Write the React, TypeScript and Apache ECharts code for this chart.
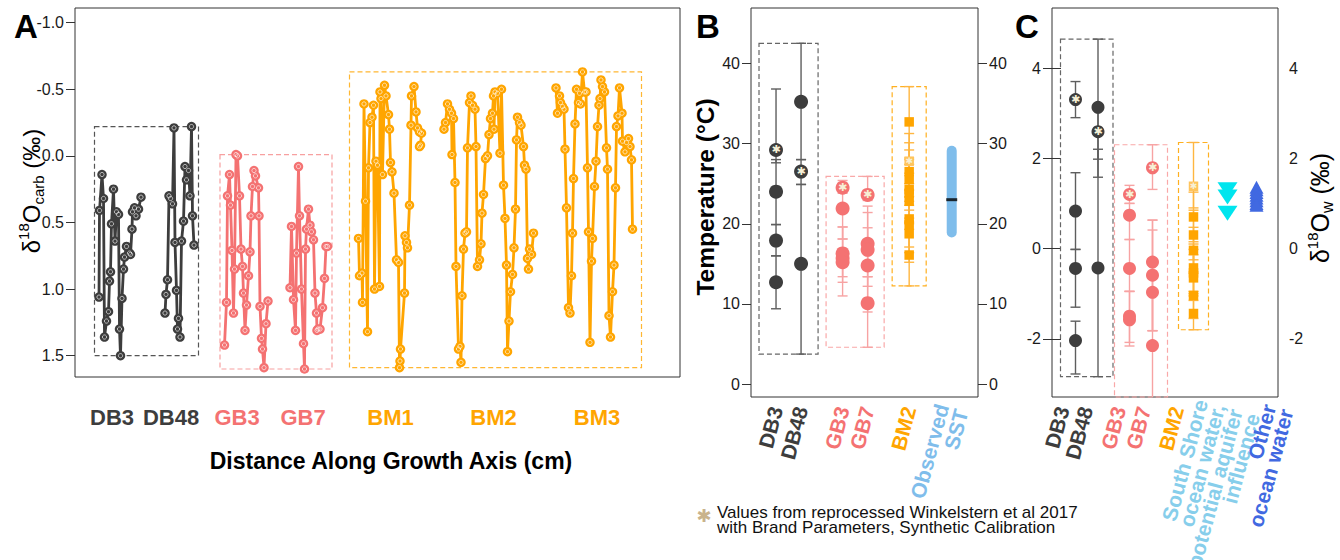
import React, { useEffect, useRef } from 'react';
import * as echarts from 'echarts';

const FONT = '"Liberation Sans", Arial, Helvetica, sans-serif';

// ---------- colours ----------
const COL: Record<string, string> = {
  db: '#3d3d3d',
  gb: '#F47272',
  bm: '#FFA500',
  sst: '#7FBDEB',
  ssw: '#87CEEB',
  oow: '#4169E1',
};
const ERRCOL: Record<string, string> = { db: '#5e5e5e', gb: '#F7A3A3', bm: '#FFB640' };
const STARFILL: Record<string, string> = { db: '#3d3d3d', gb: '#F47272', bm: '#FFC45C' };

// ---------- Panel A : d18O carb along growth axis ----------
const specimensA = ['DB3', 'DB48', 'GB3', 'GB7', 'BM1', 'BM2', 'BM3'];
const groupA = ['db', 'db', 'gb', 'gb', 'bm', 'bm', 'bm'];
const labelPosA = [7.4, 19.2, 32.4, 45.6, 63.1, 83.7, 104.4];
const ticksA = [-1, -0.5, 0, 0.5, 1, 1.5];

const db3A = [[4.8,1.06],[4.9,0.41],[5.4,0.14],[5.7,0.32],[5.9,1.36],[6.3,1.24],[6.7,1.17],[6.9,0.94],[7.1,0.87],[7.3,0.51],[7.7,0.25],[8.0,0.64],[8.3,0.42],[8.7,0.44],[8.9,1.30],[9.1,1.50],[9.4,1.07],[9.7,0.85],[9.9,0.76],[10.3,0.68],[10.9,0.73],[11.1,0.74],[11.4,0.55],[11.5,0.42],[11.9,0.39],[12.2,0.45],[12.7,0.40],[13.2,0.31]];
const db48A = [[18.0,1.18],[18.2,1.04],[18.5,0.93],[18.8,0.30],[19.1,0.32],[19.5,0.36],[19.8,-0.21],[20.0,0.65],[20.3,1.01],[20.5,1.30],[20.7,1.22],[21.0,1.36],[21.3,0.64],[21.7,0.49],[22.0,0.08],[22.3,0.18],[22.7,0.11],[23.0,0.30],[23.3,-0.22],[23.5,0.45],[23.8,0.67]];
const gb3A = [[29.9,1.42],[30.3,1.10],[30.5,0.30],[30.9,0.14],[31.1,0.37],[31.4,0.71],[31.7,1.18],[31.9,0.85],[32.2,-0.01],[32.5,0.00],[32.9,0.30],[33.2,0.70],[33.5,0.83],[33.7,1.03],[34.0,1.31],[34.3,1.12],[34.7,0.90],[35.0,0.72],[35.2,0.45],[35.5,0.23],[35.8,0.11],[36.1,0.15],[36.7,0.24],[36.8,0.45],[37.0,1.13],[37.3,1.37],[37.5,1.45],[37.8,1.59],[38.2,1.26],[38.6,1.09]];
const gb7A = [[43.0,0.99],[43.3,0.53],[43.7,1.08],[44.1,1.31],[44.3,0.73],[44.7,0.08],[44.9,0.45],[45.3,1.00],[45.7,1.41],[45.9,1.60],[46.1,0.70],[46.3,0.55],[46.7,0.40],[47.0,0.52],[47.3,0.57],[47.7,0.63],[48.0,1.03],[48.3,1.18],[48.4,1.31],[48.6,1.30],[49.0,1.30],[49.5,1.14],[49.9,0.92],[50.2,0.68],[50.5,0.68]];
const bm1A = [[56.7,0.62],[56.9,0.90],[57.4,0.88],[57.5,1.10],[57.8,-0.39],[58.1,0.34],[58.5,1.32],[58.7,0.09],[59.0,-0.25],[59.4,-0.29],[59.7,-0.38],[59.9,1.00],[60.2,0.04],[60.5,0.07],[60.9,0.98],[61.0,-0.48],[61.2,-0.43],[61.5,0.14],[61.9,-0.53],[62.2,-0.45],[62.7,-0.31],[62.9,-0.20],[63.1,0.05],[63.4,0.12],[63.8,0.28],[64.3,0.78],[64.7,0.80],[64.9,1.59],[65.0,1.54],[65.1,1.45],[65.9,1.03],[66.0,0.60],[66.3,0.65],[66.5,0.69],[66.9,0.37],[67.2,-0.23],[67.3,-0.45],[67.8,-0.52],[68.2,-0.33],[68.5,-0.21],[68.9,-0.18],[69.3,-0.17],[69.1,-0.08],[68.9,-0.07]];
const bm2A = [[73.8,-0.20],[74.1,-0.25],[74.5,-0.39],[74.9,-0.35],[75.3,-0.32],[75.4,-0.01],[75.7,-0.28],[76.0,0.20],[76.2,0.83],[76.7,1.45],[77.0,1.43],[77.2,1.55],[77.4,1.05],[77.7,0.70],[78.0,0.58],[78.3,0.57],[78.5,-0.06],[78.9,-0.40],[79.2,-0.45],[79.5,-0.38],[80.0,-0.35],[80.2,-0.07],[80.5,0.83],[80.9,0.78],[81.2,0.66],[81.4,0.43],[81.7,0.29],[82.1,0.02],[82.5,0.00],[82.8,-0.16],[83.1,-0.28],[83.5,-0.32],[83.7,-0.45],[83.8,-0.20],[84.0,-0.48],[84.5,-0.47],[85.0,-0.02],[85.3,-0.50],[85.7,0.22],[86.0,0.47],[86.3,0.82],[86.5,1.47],[86.8,1.24],[87.1,1.02],[87.5,0.89],[87.8,0.69],[88.1,0.40],[88.3,-0.12],[88.5,-0.29],[88.9,-0.25],[89.2,-0.23],[89.7,-0.07],[89.9,0.07],[90.2,0.10],[90.5,0.77],[90.7,0.85],[90.9,0.70],[91.3,0.74],[91.7,0.58]];
const bm3A = [[96.2,-0.51],[96.5,-0.32],[96.9,-0.45],[97.1,-0.40],[97.5,-0.37],[97.8,-0.35],[98.0,-0.05],[98.3,0.39],[98.7,1.14],[99.0,1.18],[99.3,0.90],[99.5,0.58],[99.7,0.17],[100.0,-0.24],[100.3,-0.50],[100.7,-0.40],[100.9,-0.47],[101.1,-0.39],[101.5,-0.63],[101.9,-0.48],[102.2,-0.48],[102.5,0.09],[102.7,0.57],[103.0,1.40],[103.3,0.79],[103.5,0.62],[103.9,0.23],[104.2,0.04],[104.5,-0.22],[104.8,-0.38],[105.0,-0.43],[105.2,-0.57],[105.5,-0.52],[105.9,-0.48],[106.3,-0.06],[106.5,0.10],[106.8,1.20],[107.1,1.36],[107.5,1.02],[107.8,0.82],[108.1,0.24],[108.3,-0.22],[108.6,-0.30],[108.9,-0.51],[109.4,-0.32],[109.5,-0.11],[110.0,-0.03],[110.3,-0.10],[110.7,-0.13],[111.0,-0.07],[111.3,0.03],[111.5,0.55]];
const seriesDataA = [db3A, db48A, gb3A, gb7A, bm1A, bm2A, bm3A];

// ---------- Panel B : temperature (value, low, high) ----------
const labelsB = ['DB3', 'DB48', 'GB3', 'GB7', 'BM2', 'Observed\nSST'];
const groupB = ['db', 'db', 'gb', 'gb', 'bm', 'sst'];
const posB = [1, 2, 3.66, 4.66, 6.32, 8.02];
const ticksB = [0, 10, 20, 30, 40];
const tempDB3 = [[24.0,19.9,28.0],[17.9,16.0,19.9],[12.7,9.4,16.0]];
const tempDB3W = [[29.2,27.6,36.8]];
const tempDB48 = [[35.2,28.0,42.5],[15.0,3.75,24.9]];
const tempDB48W = [[26.5,24.9,28.0]];
const tempGB3 = [[21.9,18.1,24.9],[16.3,13.4,19.6],[15.7,12.7,18.1],[15.2,11.0,19.6]];
const tempGB3W = [[24.5,23.8,25.4]];
const tempGB7 = [[17.5,13.4,22.2],[16.75,12.2,21.4],[14.8,9.0,19.5],[10.1,4.6,13.4]];
const tempGB7W = [[23.6,22.9,25.9]];
const tempBM2 = [[32.7,28.2,37.1],[26.5,22.8,30.1],[25.5,21.7,29.2],[24.25,20.7,28.0],[23.8,20.2,27.4],[22.8,19.3,26.3],[20.6,17.1,24.2],[19.9,16.4,23.4],[18.75,15.2,22.3],[16.1,12.25,20.0]];
const tempBM2W = [[27.8,25.0,31.25]];
const sstRange = [18.9, 29.1];
const sstMean = 23.0;

// ---------- Panel C : d18O water (value, low, high) ----------
const labelsC = ['DB3', 'DB48', 'GB3', 'GB7', 'BM2', 'South Shore\nocean water,\npotential aquifer\ninfluence', 'Other\nocean water'];
const groupC = ['db', 'db', 'gb', 'gb', 'bm', 'ssw', 'oow'];
const posC = [0.94, 1.84, 3.1, 4.02, 5.66, 7.02, 8.18];
const labelPosC = [0.42, 1.36, 2.68, 3.68, 5.0, 7.0, 9.03];
const ticksC = [-2, 0, 2, 4];
const owDB3 = [[0.83,-0.02,1.68],[-0.44,-1.30,-0.02],[-2.04,-2.78,-1.61]];
const owDB3W = [[3.30,2.90,3.70]];
const owDB48 = [[3.13,1.58,4.64],[-0.43,-2.84,2.20]];
const owDB48W = [[2.59,1.98,3.20]];
const owGB3 = [[0.74,0.20,1.00],[-0.44,-0.95,0.20],[-1.50,-2.08,-0.95],[-1.58,-2.16,-0.95]];
const owGB3W = [[1.20,1.00,1.40]];
const owGB7 = [[-0.30,-1.82,0.63],[-0.59,-1.82,0.41],[-0.97,-1.82,0.63],[-2.15,-3.50,-1.02]];
const owGB7W = [[1.79,1.31,2.30]];
const owBM2 = [[0.70,0.15,1.25],[0.30,-0.25,0.85],[-0.04,-0.55,0.47],[-0.43,-0.95,0.10],[-0.54,-1.05,-0.02],[-0.65,-1.15,-0.14],[-1.04,-1.55,-0.52],[-1.44,-1.80,-1.00]];
const owBM2W = [[1.38,0.90,2.35]];
const southShore = [1.30, 1.14, 0.78];
const otherOcean = [1.36, 1.30, 1.24, 1.18, 1.12, 1.06, 1.00, 0.96];

// ---------- helpers ----------
const near = (arr: number[], v: number) => arr.findIndex((p) => Math.abs(p - v) < 1e-6);

function richFor(size: number, lh: number) {
  const r: any = {};
  Object.keys(COL).forEach((k) => {
    r[k] = { color: COL[k], fontWeight: 'bold', fontSize: size, fontFamily: FONT, lineHeight: lh };
  });
  return r;
}

function labelText(labels: string[], groups: string[], pos: number[]) {
  return (v: number) => {
    const i = near(pos, v);
    if (i < 0) return '';
    return labels[i].split('\n').map((s) => `{${groups[i]}|${s}}`).join('\n');
  };
}

const boxRender = (params: any, api: any) => {
  const p0 = api.coord([api.value(0), api.value(1)]);
  const p1 = api.coord([api.value(2), api.value(3)]);
  const rect = {
    x: Math.min(p0[0], p1[0]),
    y: Math.min(p0[1], p1[1]),
    width: Math.abs(p1[0] - p0[0]),
    height: Math.abs(p1[1] - p0[1]),
  };
  const cs = params.coordSys;
  const c = echarts.graphic.clipRectByRect(rect, { x: cs.x, y: cs.y, width: cs.width, height: cs.height });
  if (!c) return null;
  return {
    type: 'rect',
    shape: c,
    style: { fill: 'none', stroke: api.visual('color'), lineWidth: 1.2, lineDash: [5, 3] },
  };
};

const errRender = (params: any, api: any) => {
  const x = api.value(0);
  const a = api.coord([x, api.value(1)]);
  const b = api.coord([x, api.value(2)]);
  const cs = params.coordSys;
  const clampY = (y: number) => Math.max(cs.y, Math.min(cs.y + cs.height, y));
  const y1 = clampY(a[1]);
  const y2 = clampY(b[1]);
  const style = { stroke: api.visual('color'), lineWidth: 1.4 };
  const h = 5;
  const children: any[] = [{ type: 'line', shape: { x1: a[0], y1, x2: a[0], y2 }, style }];
  if (y1 === a[1]) children.push({ type: 'line', shape: { x1: a[0] - h, y1, x2: a[0] + h, y2: y1 }, style });
  if (y2 === b[1]) children.push({ type: 'line', shape: { x1: b[0] - h, y1: y2, x2: b[0] + h, y2 }, style });
  return { type: 'group', children };
};

function boxFrom(groups: number[][][], pad: number, xs: number[]) {
  let y0 = Infinity, y1 = -Infinity;
  groups.forEach((g) => g.forEach((p) => { y0 = Math.min(y0, p[1]); y1 = Math.max(y1, p[2]); }));
  return [Math.min(...xs) - pad, y0, Math.max(...xs) + pad, y1];
}

function boxFromLine(lines: number[][][], pad: number) {
  let x0 = Infinity, x1 = -Infinity, y0 = Infinity, y1 = -Infinity;
  lines.forEach((l) => l.forEach((p) => {
    x0 = Math.min(x0, p[0]); x1 = Math.max(x1, p[0]); y0 = Math.min(y0, p[1]); y1 = Math.max(y1, p[1]);
  }));
  return [x0 - pad, y0, x1 + pad, y1];
}

function groupSeries(xi: number, yi: number, pos: number, pts: number[][], star: number[][], g: string, symbol: string, size: number) {
  const out: any[] = [];
  out.push({
    type: 'custom', xAxisIndex: xi, yAxisIndex: yi, renderItem: errRender, z: 2,
    itemStyle: { color: ERRCOL[g] },
    data: [...pts, ...star].map((p) => [pos, p[1], p[2]]),
  });
  out.push({
    type: 'scatter', xAxisIndex: xi, yAxisIndex: yi, symbol, symbolSize: size, z: 3,
    itemStyle: { color: COL[g], opacity: 1 },
    data: pts.map((p) => [pos, p[0]]),
  });
  out.push({
    type: 'scatter', xAxisIndex: xi, yAxisIndex: yi, symbol, symbolSize: size, z: 4,
    itemStyle: { color: STARFILL[g], opacity: 1 },
    label: {
      show: true, position: 'inside', formatter: '\u2731', color: '#F6F0D6',
      fontSize: symbol === 'rect' ? 9 : 11, fontFamily: '"DejaVu Sans", sans-serif',
    },
    data: star.map((p) => [pos, p[0]]),
  });
  return out;
}

function yAxisCfg(grid: number, min: number, max: number, ticks: number[], pos: string, fmt: (v: number) => string, extra: any = {}) {
  return {
    gridIndex: grid, type: 'value', position: pos, min, max, ...extra,
    axisLine: { show: false }, splitLine: { show: false },
    axisTick: { show: true, customValues: ticks, length: 9, lineStyle: { color: '#333', width: 1 } },
    axisLabel: { customValues: ticks, formatter: fmt, fontSize: 16, color: '#1a1a1a', fontFamily: FONT, margin: 11 },
  };
}

function xAxisCfg(grid: number, max: number, labelPos: number[], fmt: any, rich: any, extra: any = {}) {
  return {
    gridIndex: grid, type: 'value', position: 'bottom', min: 0, max,
    axisLine: { show: false }, axisTick: { show: false }, splitLine: { show: false },
    axisLabel: {
      customValues: labelPos, formatter: fmt, rich,
      showMinLabel: true, showMaxLabel: true, hideOverlap: false, ...extra,
    },
  };
}

function buildOption() {
  const series: any[] = [];

  // Panel A boxes
  const boxesA = [
    { g: 'db', box: boxFromLine([db3A, db48A], 0.9) },
    { g: 'gb', box: boxFromLine([gb3A, gb7A], 0.9) },
    { g: 'bm', box: boxFromLine([bm1A, bm2A, bm3A], 1.8) },
  ];
  boxesA.forEach((b) => series.push({
    type: 'custom', xAxisIndex: 0, yAxisIndex: 0, renderItem: boxRender, z: 1,
    itemStyle: { color: b.g === 'db' ? '#555' : b.g === 'gb' ? '#F7A0A0' : '#FFB733' },
    data: [b.box],
  }));
  seriesDataA.forEach((d, i) => {
    const c = COL[groupA[i]];
    series.push({
      name: specimensA[i], type: 'line', xAxisIndex: 0, yAxisIndex: 0, data: d,
      symbol: 'circle', symbolSize: 9.5, z: 3,
      lineStyle: { color: c, width: 2.8 },
      itemStyle: { color: c, borderWidth: 0 },
    });
    // light inner ring of the open-circle markers
    series.push({
      type: 'scatter', xAxisIndex: 0, yAxisIndex: 0, data: d, silent: true,
      symbol: 'circle', symbolSize: 4.2, z: 4,
      itemStyle: { color: 'transparent', borderColor: 'rgba(255,255,255,0.8)', borderWidth: 1 },
    });
  });

  // Panel B
  const bx = 1, by = 1;
  const boxesB = [
    { g: 'db', box: boxFrom([tempDB3, tempDB3W, tempDB48, tempDB48W], 0.68, [posB[0], posB[1]]) },
    { g: 'gb', box: boxFrom([tempGB3, tempGB3W, tempGB7, tempGB7W], 0.66, [posB[2], posB[3]]) },
    { g: 'bm', box: boxFrom([tempBM2, tempBM2W], 0.68, [posB[4]]) },
  ];
  boxesB.forEach((b) => series.push({
    type: 'custom', xAxisIndex: bx, yAxisIndex: by, renderItem: boxRender, z: 1,
    itemStyle: { color: b.g === 'db' ? '#666' : b.g === 'gb' ? '#F9A8A8' : '#FFB020' },
    data: [b.box],
  }));
  series.push(...groupSeries(bx, by, posB[0], tempDB3, tempDB3W, 'db', 'circle', 14));
  series.push(...groupSeries(bx, by, posB[1], tempDB48, tempDB48W, 'db', 'circle', 14));
  series.push(...groupSeries(bx, by, posB[2], tempGB3, tempGB3W, 'gb', 'circle', 14));
  series.push(...groupSeries(bx, by, posB[3], tempGB7, tempGB7W, 'gb', 'circle', 14));
  series.push(...groupSeries(bx, by, posB[4], tempBM2, tempBM2W, 'bm', 'rect', 9.5));
  series.push({
    type: 'line', xAxisIndex: bx, yAxisIndex: by, showSymbol: false, symbol: 'none', z: 3,
    lineStyle: { color: COL.sst, width: 10, cap: 'round' },
    data: sstRange.map((v) => [posB[5], v]),
  });
  series.push({
    type: 'scatter', xAxisIndex: bx, yAxisIndex: by, symbol: 'rect', symbolSize: [11, 3], z: 4,
    itemStyle: { color: '#000' }, data: [[posB[5], sstMean]],
  });

  // Panel C
  const cx = 2, cy = 3;
  const boxesC = [
    { g: 'db', box: boxFrom([owDB3, owDB3W, owDB48, owDB48W], 0.6, [posC[0], posC[1]]) },
    { g: 'gb', box: boxFrom([owGB3, owGB3W, owGB7, owGB7W], 0.6, [posC[2], posC[3]]) },
    { g: 'bm', box: boxFrom([owBM2, owBM2W], 0.6, [posC[4]]) },
  ];
  boxesC.forEach((b) => series.push({
    type: 'custom', xAxisIndex: cx, yAxisIndex: cy, renderItem: boxRender, z: 1,
    itemStyle: { color: b.g === 'db' ? '#666' : b.g === 'gb' ? '#F9A8A8' : '#FFB020' },
    data: [b.box],
  }));
  series.push(...groupSeries(cx, cy, posC[0], owDB3, owDB3W, 'db', 'circle', 13));
  series.push(...groupSeries(cx, cy, posC[1], owDB48, owDB48W, 'db', 'circle', 13));
  series.push(...groupSeries(cx, cy, posC[2], owGB3, owGB3W, 'gb', 'circle', 13));
  series.push(...groupSeries(cx, cy, posC[3], owGB7, owGB7W, 'gb', 'circle', 13));
  series.push(...groupSeries(cx, cy, posC[4], owBM2, owBM2W, 'bm', 'rect', 9.5));
  series.push({
    type: 'scatter', xAxisIndex: cx, yAxisIndex: cy, symbol: 'triangle', symbolRotate: 180,
    symbolSize: [20, 15], z: 3, itemStyle: { color: '#00E5EE', opacity: 1 },
    data: southShore.map((v) => [posC[5], v]),
  });
  series.push({
    type: 'scatter', xAxisIndex: cx, yAxisIndex: cy, symbol: 'triangle',
    symbolSize: [14, 13], z: 3, itemStyle: { color: COL.oow, opacity: 1 },
    data: otherOcean.map((v) => [posC[6], v]),
  });

  const richB = richFor(21, 20);
  const richC = richFor(21, 18);
  const richA = richFor(22, 24);
  const firstC = labelPosC.slice(0, 6);
  const lastC = labelPosC.slice(6);
  const gridBase = { show: true, borderColor: '#333', borderWidth: 1, backgroundColor: 'transparent', containLabel: false, outerBoundsMode: 'none' };

  return {
    animation: false,
    backgroundColor: '#fff',
    textStyle: { fontFamily: FONT },
    grid: [
      { ...gridBase, left: 75, top: 8, width: 605, height: 369 },
      { ...gridBase, left: 751, top: 8, width: 227, height: 389 },
      { ...gridBase, left: 1052, top: 8, width: 226, height: 389 },
    ],
    xAxis: [
      xAxisCfg(0, 121, labelPosA, labelText(specimensA, groupA, labelPosA), richA, { margin: 28 }),
      xAxisCfg(1, 9.07, posB, labelText(labelsB, groupB, posB), richB, { rotate: 75, margin: 10 }),
      xAxisCfg(2, 9.04, firstC, labelText(labelsC, groupC, labelPosC), richC, { rotate: 75, margin: 10 }),
      { ...xAxisCfg(2, 9.04, lastC, labelText(labelsC, groupC, labelPosC), richC, { rotate: 75, margin: 10 }), offset: 0 },
    ],
    yAxis: [
      yAxisCfg(0, -1.11, 1.66, ticksA, 'left', (v) => v.toFixed(1), { inverse: true }),
      yAxisCfg(1, -1.6, 46.9, ticksB, 'left', (v) => String(v)),
      yAxisCfg(1, -1.6, 46.9, ticksB, 'right', (v) => String(v)),
      yAxisCfg(2, -3.29, 5.33, ticksC, 'left', (v) => String(v)),
      yAxisCfg(2, -3.29, 5.33, ticksC, 'right', (v) => String(v)),
    ],
    series,
    graphic: [
      { type: 'text', x: 26, y: 26, style: { text: 'A', font: `bold 33px ${FONT}`, fill: '#000', align: 'center', verticalAlign: 'middle' } },
      { type: 'text', x: 708, y: 26, style: { text: 'B', font: `bold 33px ${FONT}`, fill: '#000', align: 'center', verticalAlign: 'middle' } },
      { type: 'text', x: 1027, y: 26, style: { text: 'C', font: `bold 33px ${FONT}`, fill: '#000', align: 'center', verticalAlign: 'middle' } },
      {
        type: 'text', x: 31, y: 191, rotation: Math.PI / 2,
        style: {
          text: '{a|\u03b4}{s|18}{a|O}{b|carb}{a| (\u2030)}', align: 'center', verticalAlign: 'middle',
          rich: {
            a: { fontSize: 24, fontFamily: FONT, fill: '#000', lineHeight: 30 },
            s: { fontSize: 15, fontFamily: FONT, fill: '#000', lineHeight: 16, verticalAlign: 'top' },
            b: { fontSize: 15, fontFamily: FONT, fill: '#000', lineHeight: 14, verticalAlign: 'bottom' },
          },
        },
      },
      {
        type: 'text', x: 391, y: 461,
        style: { text: 'Distance Along Growth Axis (cm)', font: `bold 23px ${FONT}`, fill: '#000', align: 'center', verticalAlign: 'middle' },
      },
      {
        type: 'text', x: 705, y: 197, rotation: Math.PI / 2,
        style: { text: 'Temperature (\u00b0C)', font: `bold 24.5px ${FONT}`, fill: '#000', align: 'center', verticalAlign: 'middle' },
      },
      {
        type: 'text', x: 1320, y: 208, rotation: Math.PI / 2,
        style: {
          text: '{a|\u03b4}{s|18}{a|O}{b|w}{a| (\u2030)}', align: 'center', verticalAlign: 'middle',
          rich: {
            a: { fontSize: 25, fontFamily: FONT, fill: '#000', lineHeight: 30 },
            s: { fontSize: 15, fontFamily: FONT, fill: '#000', lineHeight: 16, verticalAlign: 'top' },
            b: { fontSize: 16, fontFamily: FONT, fill: '#000', lineHeight: 14, verticalAlign: 'bottom' },
          },
        },
      },
      {
        type: 'text', x: 704, y: 515,
        style: { text: '\u2731', font: `18px "DejaVu Sans", sans-serif`, fill: '#C9B38C', align: 'center', verticalAlign: 'middle' },
      },
      {
        type: 'text', x: 717, y: 505,
        style: {
          text: 'Values from reprocessed Winkelstern et al 2017\nwith Brand Parameters, Synthetic Calibration',
          font: `17px ${FONT}`, lineHeight: 15, fill: '#111', align: 'left', verticalAlign: 'top',
        },
      },
    ],
  };
}

export default function App() {
  const ref = useRef<HTMLDivElement>(null);
  useEffect(() => {
    document.body.style.margin = '0';
    const chart = echarts.init(ref.current!, undefined, { renderer: 'svg' });
    chart.setOption(buildOption() as any);
    return () => chart.dispose();
  }, []);
  return <div ref={ref} style={{ width: 1340, height: 560, background: '#fff' }} />;
}
